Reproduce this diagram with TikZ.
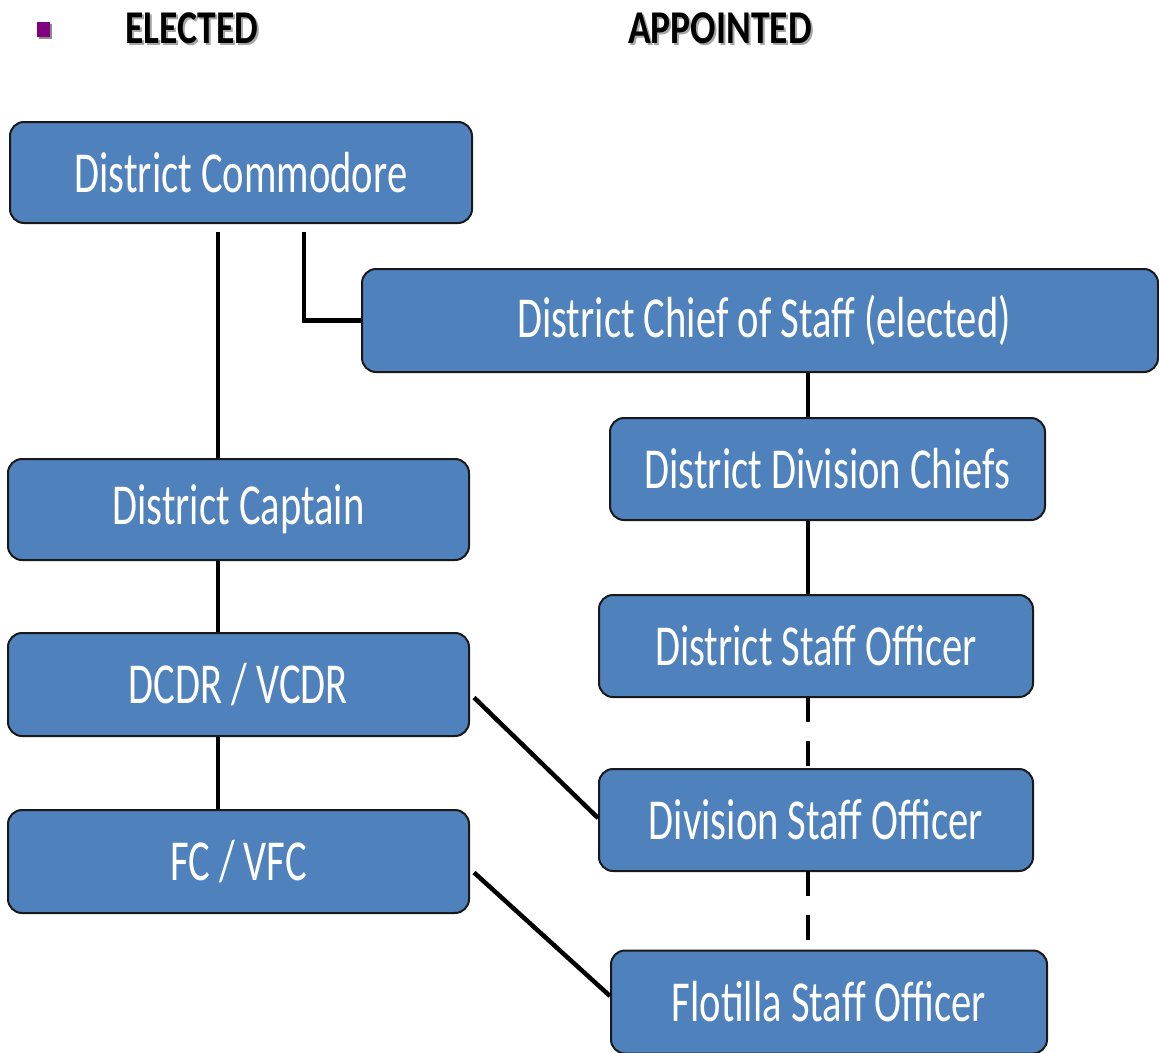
\documentclass[tikz,border=0pt]{standalone}
\usepackage{fontspec}
\newfontfamily\boxfont[FakeStretch=0.70]{Carlito}
\newfontfamily\headfont[FakeStretch=0.8]{Carlito}
\definecolor{boxblue}{HTML}{4F81BD}
\definecolor{bullet}{HTML}{800080}
\begin{document}
\begin{tikzpicture}[x=1pt,y=-1pt,
  box/.style={draw=black!90, line width=2pt, fill=boxblue, rounded corners=14pt,
    inner sep=0pt, text=white, font=\boxfont\fontsize{58}{60}\selectfont},
  conn/.style={line width=4.5pt, black},
  dconn/.style={conn, dash pattern=on 25pt off 19pt},
  head/.style={font=\headfont\bfseries\fontsize{47}{50}\selectfont, text=black, inner sep=0pt},
  headshadow/.style={head, text=black!35}]
\useasboundingbox (0,0) rectangle (1159,1052);
\clip (0,0) rectangle (1159,1052);
\fill[white] (0,0) rectangle (1159,1052);
% header
\fill[black!45] (39,24) rectangle (52,39);
\fill[bullet] (37,22) rectangle (50,37);
\node[headshadow] at (194,30) {ELECTED};
\node[head] (elected) at (192,28) {ELECTED};
\node[headshadow] at (722,30) {APPOINTED};
\node[head] (appointed) at (720,28) {APPOINTED};
% boxes
\node[box, minimum width=462pt, minimum height=101pt] (comm) at (241,172.5) {District Commodore};
\node[box, minimum width=796pt, minimum height=103pt] (chief) at (760,320.5) {\hspace*{8pt}District Chief of Staff (elected)};
\node[box, minimum width=435pt, minimum height=102pt] (divch) at (827.5,469) {District Division Chiefs};
\node[box, minimum width=461pt, minimum height=101pt] (capt) at (238.5,509.5) {District Captain};
\node[box, minimum width=434pt, minimum height=102pt] (dso) at (816,646) {District Staff Officer};
\node[box, minimum width=461pt, minimum height=103pt] (dcdr) at (238.5,684.5) {DCDR / VCDR};
\node[box, minimum width=434pt, minimum height=102pt] (divso) at (816,820) {Division Staff Officer};
\node[box, minimum width=461pt, minimum height=103pt] (fc) at (238.5,861.5) {FC / VFC};
\node[box, minimum width=436pt, minimum height=103pt] (flot) at (829,1002) {Flotilla Staff Officer};
% connector anchors
\coordinate (c1) at (218,232);
\coordinate (c2) at (304,232);
\coordinate (v) at (808,0);
% connectors
\draw[conn] (c1) -- (capt.north -| c1);
\draw[conn] (c2) |- (chief.west);
\draw[conn] (chief.south -| v) -- (divch.north -| v);
\draw[conn] (divch.south -| v) -- (dso.north -| v);
\draw[conn] (capt.south -| c1) -- (dcdr.north -| c1);
\draw[conn] (dcdr.south -| c1) -- (fc.north -| c1);
\draw[dconn] ([yshift=1pt]dso.south -| v) -- (divso.north -| v);
\draw[dconn] ([yshift=1pt]divso.south -| v) -- (flot.north -| v);
\draw[conn] ([shift={(4,13)}]dcdr.east) -- ([yshift=2pt]divso.west);
\draw[conn] ([shift={(4,11)}]fc.east) -- ([yshift=6pt]flot.west);
\end{tikzpicture}
\end{document}
